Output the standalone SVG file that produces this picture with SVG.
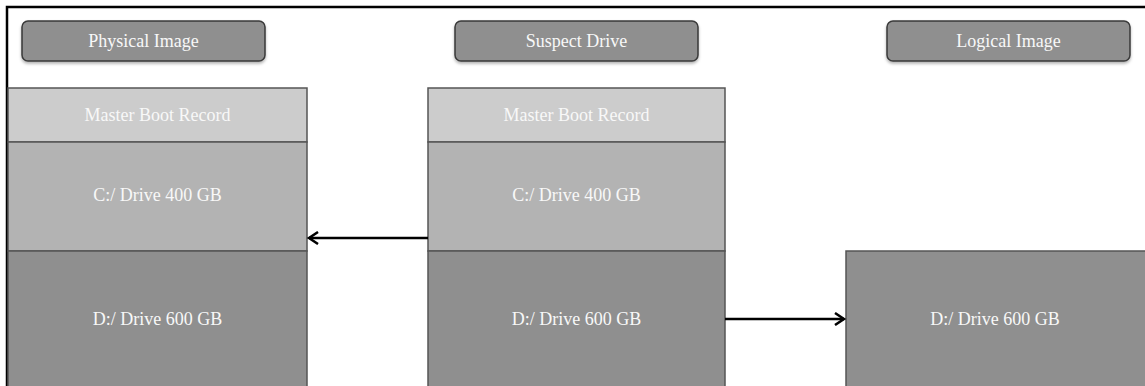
<svg xmlns="http://www.w3.org/2000/svg" width="1145" height="386" viewBox="0 0 1145 386">
<defs>
<style>
.hdr{fill:#8f8f8f;stroke:#3a3a3a;stroke-width:1.5}
.mbr{fill:#cccccc;stroke:#555;stroke-width:1.5}
.c{fill:#b3b3b3;stroke:#555;stroke-width:1.5}
.d{fill:#8f8f8f;stroke:#555;stroke-width:1.5}
text{font-family:"Liberation Serif","DejaVu Serif",serif;font-size:18px;fill:#f8f8f8;text-anchor:middle;dominant-baseline:central}
.conn{stroke:#000;stroke-width:2.5;fill:none}
</style>
<filter id="sh" x="-10%" y="-20%" width="120%" height="150%"><feDropShadow dx="0" dy="2" stdDeviation="1.5" flood-color="#000" flood-opacity="0.3"/></filter>
<marker id="arr" markerWidth="14" markerHeight="14" refX="11" refY="7" orient="auto" markerUnits="userSpaceOnUse"><path d="M2,1 L11,7 L2,13" fill="none" stroke="#000" stroke-width="2.5"/></marker>
</defs>
<rect width="1145" height="386" fill="#fff"/>
<path d="M7,386 V7 H1145" fill="none" stroke="#000" stroke-width="2.5"/>
<g id="hdr-physical"><rect class="hdr" filter="url(#sh)" x="22" y="21" width="243" height="40" rx="6"/><text x="143.5" y="41">Physical Image</text></g>
<g id="hdr-suspect"><rect class="hdr" filter="url(#sh)" x="455" y="21" width="243" height="40" rx="6"/><text x="576.5" y="41">Suspect Drive</text></g>
<g id="hdr-logical"><rect class="hdr" filter="url(#sh)" x="887" y="21" width="243" height="40" rx="6"/><text x="1008.5" y="41">Logical Image</text></g>
<g id="phys-mbr"><rect class="mbr" x="8" y="88" width="299" height="54"/><text x="157.5" y="115">Master Boot Record</text></g>
<g id="phys-c"><rect class="c" x="8" y="142" width="299" height="109"/><text x="157.5" y="195">C:/ Drive 400 GB</text></g>
<g id="phys-d"><rect class="d" x="8" y="251" width="299" height="140"/><text x="157.5" y="319">D:/ Drive 600 GB</text></g>
<g id="sus-mbr"><rect class="mbr" x="428" y="88" width="297" height="54"/><text x="576.5" y="115">Master Boot Record</text></g>
<g id="sus-c"><rect class="c" x="428" y="142" width="297" height="109"/><text x="576.5" y="195">C:/ Drive 400 GB</text></g>
<g id="sus-d"><rect class="d" x="428" y="251" width="297" height="140"/><text x="576.5" y="319">D:/ Drive 600 GB</text></g>
<g id="log-d"><rect class="d" x="846" y="251" width="300" height="140"/><text x="995" y="319">D:/ Drive 600 GB</text></g>
<g id="connectors">
<line class="conn" x1="428" y1="238" x2="309" y2="238" marker-end="url(#arr)"/>
<line class="conn" x1="725" y1="319" x2="844" y2="319" marker-end="url(#arr)"/>
</g>
</svg>
